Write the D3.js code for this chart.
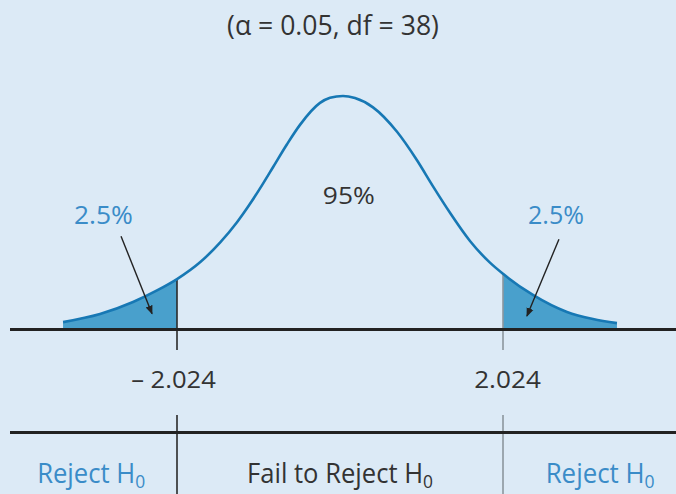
<!DOCTYPE html>
<html>
<head>
<meta charset="utf-8">
<script src="https://d3js.org/d3.v7.min.js"></script>
<style>
  html, body { margin: 0; padding: 0; background: #dceaf6; }
  svg { display: block; }
  text { font-family: "Open Sans", sans-serif; }
</style>
</head>
<body>
<div id="chart"></div>
<script>
// values (t on x, density on y)
const curveT = [-3.439, -2.980, -2.570, -2.272, -2.024, -1.738, -1.490, -1.279, -1.092, -0.956,
  -0.832, -0.658, -0.497, -0.248, -0.124, 0.037, 0.186, 0.410, 0.708, 0.956, 1.155, 1.366,
  1.614, 1.862, 2.024, 2.396, 2.818, 3.141, 3.439];
const curveDensity = [0.0117, 0.0255, 0.046, 0.0657, 0.085, 0.1136, 0.1471, 0.1819, 0.2184, 0.2476,
  0.2755, 0.3147, 0.3477, 0.3851, 0.3938, 0.397, 0.3933, 0.3776, 0.336, 0.2875, 0.243, 0.198,
  0.150, 0.113, 0.094, 0.058, 0.029, 0.017, 0.010];

const alpha = 0.05;
const df = 38;
const critValues = [-2.024, 2.024];
const critLabels = ["\u2013 2.024", "2.024"];
const tailLabels = ["2.5%", "2.5%"];
const middleLabel = "95%";
const decisionLabels = ["Reject H", "Fail to Reject H", "Reject H"];

const width = 676;
const height = 494;

const x = d3.scaleLinear().domain(critValues).range([177, 503]);
const y = d3.scaleLinear().domain([0, 0.3969]).range([329, 96]);

const points = curveT.map((t, i) => ({ t: t, d: curveDensity[i] }));

const svg = d3.select("#chart").append("svg")
    .attr("width", width)
    .attr("height", height);

svg.append("defs").append("marker")
    .attr("id", "arrow")
    .attr("viewBox", "0 0 10 10")
    .attr("refX", 9).attr("refY", 5)
    .attr("markerWidth", 9).attr("markerHeight", 9)
    .attr("markerUnits", "userSpaceOnUse")
    .attr("orient", "auto")
  .append("path")
    .attr("d", "M0,1 L10,5 L0,9 Z")
    .attr("fill", "#222");

const baseY = y(0);
const lowerY = 432.5;

// shaded tails
const area = d3.area()
    .x(d => x(d.t))
    .y0(baseY)
    .y1(d => y(d.d))
    .curve(d3.curveMonotoneX);

svg.append("path")
    .datum(points.filter(p => p.t <= critValues[0]))
    .attr("d", area)
    .attr("fill", "#49a0cc");
svg.append("path")
    .datum(points.filter(p => p.t >= critValues[1]))
    .attr("d", area)
    .attr("fill", "#49a0cc");

// critical lines
const critColors = ["#2a2a2a", "#8c969e"];
critValues.forEach((c, i) => {
    const p = points.find(p => p.t === c);
    svg.append("line")
        .attr("x1", x(c)).attr("x2", x(c))
        .attr("y1", y(p.d)).attr("y2", baseY + 21)
        .attr("stroke", critColors[i]).attr("stroke-width", 1.6);
    svg.append("line")
        .attr("x1", x(c)).attr("x2", x(c))
        .attr("y1", 415).attr("y2", height)
        .attr("stroke", critColors[i]).attr("stroke-width", 1.6);
});

// the curve
svg.append("path")
    .datum(points)
    .attr("d", d3.line().x(d => x(d.t)).y(d => y(d.d)).curve(d3.curveMonotoneX))
    .attr("fill", "none")
    .attr("stroke", "#1778b4")
    .attr("stroke-width", 2.6);

// axis line and the decision line
[baseY + 0.5, lowerY].forEach(yy => {
    svg.append("line")
        .attr("x1", 10).attr("x2", width)
        .attr("y1", yy).attr("y2", yy)
        .attr("stroke", "#222").attr("stroke-width", 3);
});

// arrows pointing into the tails
const arrows = [
    { from: [-2.719, 0.158], to: [-2.334, 0.026] },
    { from: [2.719, 0.153], to: [2.321, 0.022] }
];
arrows.forEach(a => {
    svg.append("line")
        .attr("x1", x(a.from[0])).attr("y1", y(a.from[1]))
        .attr("x2", x(a.to[0])).attr("y2", y(a.to[1]))
        .attr("stroke", "#222").attr("stroke-width", 1.4)
        .attr("marker-end", "url(#arrow)");
});

// text helper: glyphs in the picture are narrow, so squeeze to the read width
function label(str, cx, by, size, color, targetW, sub) {
    const t = svg.append("text")
        .attr("text-anchor", "middle")
        .attr("font-size", size)
        .attr("fill", color)
        .text(str);
    if (sub) {
        t.append("tspan")
            .attr("font-size", size * 0.68)
            .attr("dy", size * 0.2)
            .text(sub);
    }
    const w = t.node().getBBox().width;
    t.attr("transform", `translate(${cx},${by}) scale(${targetW / w},1)`);
    return t;
}

label(`(\u03b1 = ${alpha}, df = ${df})`, 333, 35, 28, "#333", 212);
label(middleLabel, x(0.11), 204, 24, "#333", 52);
label(tailLabels[0], x(-2.937), 224, 25, "#3a8cc8", 59);
label(tailLabels[1], x(2.682), 224, 25, "#3a8cc8", 56);
label(critLabels[0], x(critValues[0]) - 3.5, 388, 24, "#333", 85);
label(critLabels[1], x(critValues[1]) + 4.5, 388, 24, "#333", 67);

label(decisionLabels[0], x(-3.09), 483, 27, "#3a8cc8", 108, "0");
label(decisionLabels[1], x(0), 483, 27, "#333", 186, "0");
label(decisionLabels[2], x(3.23), 483, 27, "#3a8cc8", 109, "0");
</script>
</body>
</html>
